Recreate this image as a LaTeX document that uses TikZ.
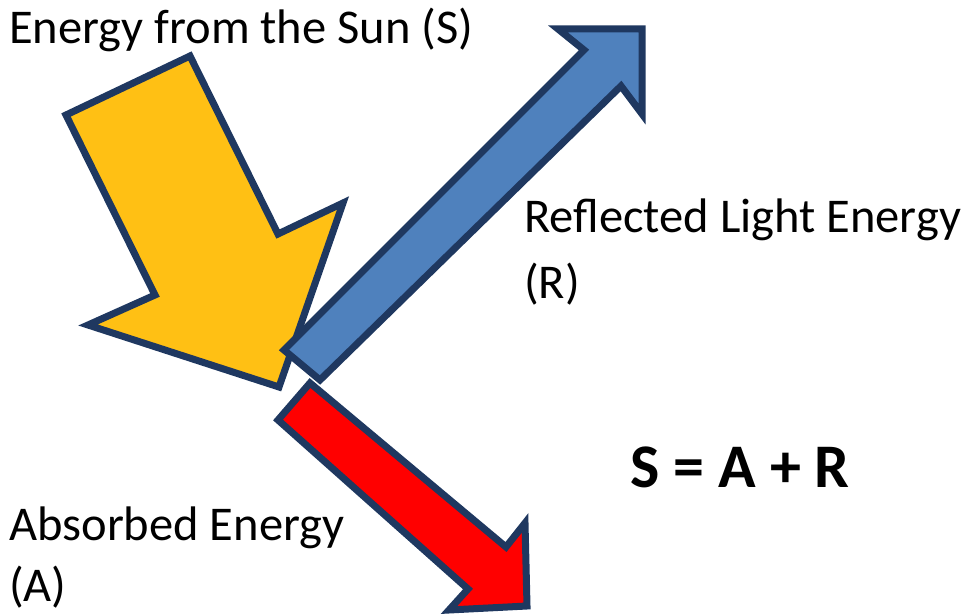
\documentclass[tikz,border=0pt]{standalone}
\usepackage{fontspec}
\setmainfont{Carlito}
\definecolor{outl}{RGB}{31,56,96}
\definecolor{sunyel}{RGB}{255,192,20}
\definecolor{refblue}{RGB}{79,129,189}
\definecolor{absred}{RGB}{255,0,0}
\tikzset{
  bigarrow/.style={draw=outl, line width=7pt, line join=miter, miter limit=10},
  lbl/.style={anchor=base west, inner sep=0pt, font=\fontsize{48.5}{48.5}\selectfont},
}
\begin{document}
\begin{tikzpicture}[x=1pt,y=-1pt]
\useasboundingbox (0,0) rectangle (969,615);
% red arrow (absorbed)
\fill[absred, bigarrow] (310,383) -- (506,547) -- (525,523) -- (527,606) -- (449,610) -- (468,589) -- (278,420) -- cycle;
% yellow arrow (sun)
\fill[sunyel, bigarrow] (190,56) -- (278,234) -- (343,203) -- (279,387) -- (88,325) -- (155,295) -- (66,115) -- cycle;
% blue arrow (reflected)
\fill[refblue, bigarrow] (284,350) -- (584,50) -- (558,29) -- (642,29) -- (642,114) -- (621,86) -- (320,380) -- cycle;
% labels
\node[lbl] (sun) at (9,44) {Energy from the Sun (S)};
\node[lbl] (refl) at (524,232) {Reflected Light Energy};
\node[lbl] (reflR) at (524,298) {(R)};
\node[lbl] (abs) at (9,540) {Absorbed Energy};
\node[lbl] (absA) at (9,601) {(A)};
\node[anchor=base west, inner sep=0pt, font=\fontsize{62}{62}\selectfont\bfseries] (eq) at (630,487) {S = A + R};
\end{tikzpicture}
\end{document}
